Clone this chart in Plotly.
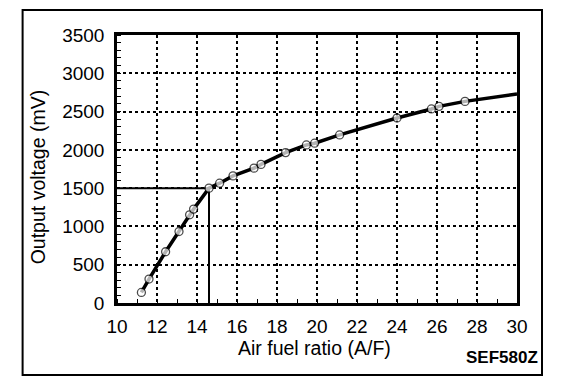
import plotly.graph_objects as go

# Data
afr = [11.22, 11.6, 12.43, 13.1, 13.63, 13.83, 14.6, 15.13, 15.8, 16.85, 17.2,
       18.43, 19.47, 19.88, 21.13, 24.0, 25.72, 26.1, 27.4, 30.0]
mv = [138, 313, 669, 934, 1152, 1226, 1500, 1565, 1660, 1761, 1810,
      1964, 2064, 2087, 2195, 2416, 2534, 2568, 2633, 2730]
has_marker = [True] * 19 + [False]

ref_afr = 14.6
ref_mv = 1500

x_ticks = [10, 12, 14, 16, 18, 20, 22, 24, 26, 28, 30]
y_ticks = [0, 500, 1000, 1500, 2000, 2500, 3000, 3500]

FONT = "Liberation Sans, Arial, sans-serif"

fig = go.Figure()

# reference lines at stoichiometric point
fig.add_trace(go.Scatter(x=[x_ticks[0], ref_afr, ref_afr], y=[ref_mv, ref_mv, y_ticks[0]],
                         mode="lines", line=dict(color="black", width=2),
                         hoverinfo="skip", showlegend=False))

fig.add_trace(go.Scatter(
    x=afr, y=mv, mode="lines+markers",
    line=dict(color="black", width=3.5),
    marker=dict(symbol="circle", size=[8 if m else 0 for m in has_marker],
                color="white", line=dict(color="black", width=1.3)),
    showlegend=False))

axis_common = dict(showline=True, linecolor="black", linewidth=2.5, mirror=True,
                   showgrid=True, gridcolor="black", gridwidth=1.5, griddash="3px,3px",
                   zeroline=False, ticks="",
                   tickfont=dict(family=FONT, size=19, color="black"))

fig.update_xaxes(range=[10, 30], tickvals=x_ticks, ticktext=[str(v) for v in x_ticks],
                 ticklabelstandoff=4,
                 minor=dict(ticks="inside", dtick=1, ticklen=4, tickcolor="black",
                            tickwidth=1, showgrid=False),
                 **axis_common)
fig.update_yaxes(range=[0, 3500], tickvals=y_ticks, ticktext=[str(v) for v in y_ticks],
                 ticklabelstandoff=6,
                 minor=dict(ticks="inside", dtick=100, ticklen=4, tickcolor="black",
                            tickwidth=1, showgrid=False),
                 **axis_common)

# The page body adds an 8px offset; size and margins compensate for it.
fig.update_layout(
    width=568, height=380,
    margin=dict(l=109, r=59, t=27, b=85),
    paper_bgcolor="white", plot_bgcolor="white",
    font=dict(family=FONT, color="black"),
    shapes=[dict(type="rect", xref="paper", yref="paper",
                 x0=-0.236, x1=1.0625, y0=-0.2687, y1=1.093,
                 line=dict(color="black", width=2), layer="below")],
    annotations=[
        dict(text="Air fuel ratio (A/F)", xref="paper", yref="paper", x=0.493, y=-0.167,
             xanchor="center", yanchor="middle", showarrow=False,
             font=dict(family=FONT, size=19.5, color="black")),
        dict(text="Output voltage (mV)", xref="paper", yref="paper", x=-0.1975, y=0.469,
             xanchor="center", yanchor="middle", showarrow=False, textangle=-90,
             font=dict(family=FONT, size=19.5, color="black")),
        dict(text="<b>SEF580Z</b>", xref="paper", yref="paper", x=1.0568, y=-0.204,
             xanchor="right", yanchor="middle", showarrow=False,
             font=dict(family=FONT, size=17, color="black")),
    ],
)

fig.write_html("out.html")
